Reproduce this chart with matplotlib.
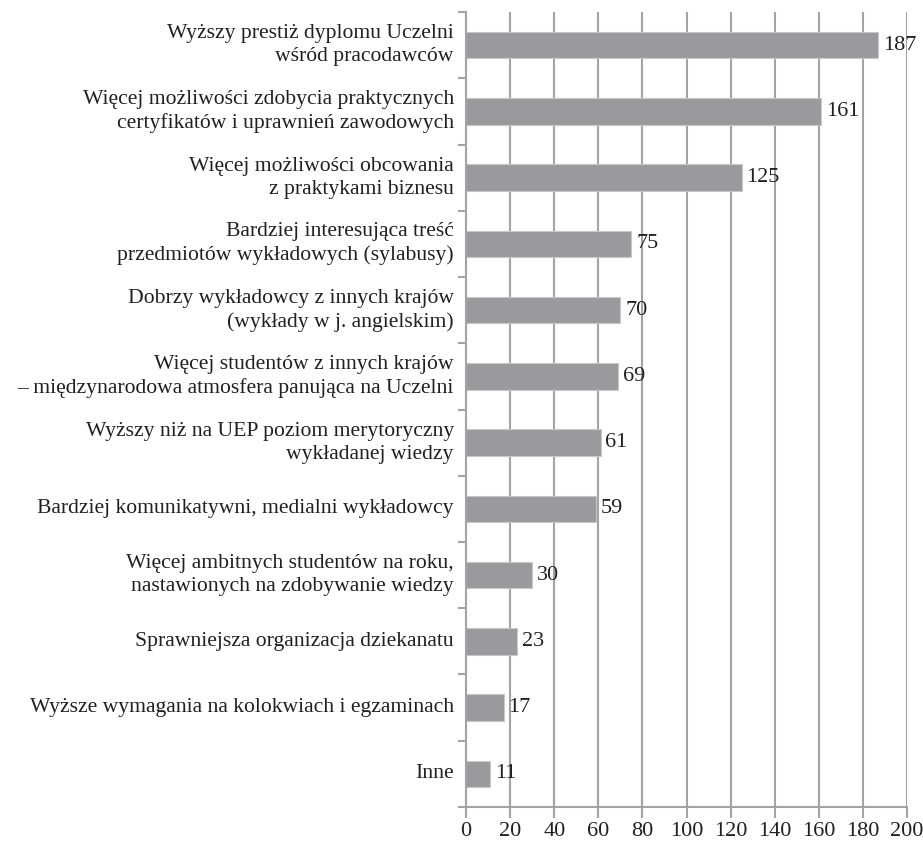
import matplotlib
matplotlib.use("Agg")
import matplotlib.pyplot as plt
import numpy as np

categories = [
    "Wyższy prestiż dyplomu Uczelni\nwśród pracodawców",
    "Więcej możliwości zdobycia praktycznych\ncertyfikatów i uprawnień zawodowych",
    "Więcej możliwości obcowania\nz praktykami biznesu",
    "Bardziej interesująca treść\nprzedmiotów wykładowych (sylabusy)",
    "Dobrzy wykładowcy z innych krajów\n(wykłady w j. angielskim)",
    "Więcej studentów z innych krajów\n– międzynarodowa atmosfera panująca na Uczelni",
    "Wyższy niż na UEP poziom merytoryczny\nwykładanej wiedzy",
    "Bardziej komunikatywni, medialni wykładowcy",
    "Więcej ambitnych studentów na roku,\nnastawionych na zdobywanie wiedzy",
    "Sprawniejsza organizacja dziekanatu",
    "Wyższe wymagania na kolokwiach i egzaminach",
    "Inne",
]
values = [187, 161, 125, 75, 70, 69, 61, 59, 30, 23, 17, 11]
x_ticks = [0, 20, 40, 60, 80, 100, 120, 140, 160, 180, 200]

plt.rcParams['font.family'] = ['Liberation Serif', 'DejaVu Serif']
plt.rcParams['font.size'] = 16

fig = plt.figure(figsize=(9.23, 8.42), dpi=100)
ax = fig.add_axes([0.505, 0.0416, 0.9827 - 0.505, 0.9857 - 0.0416])

grid_c = "#a3a3a3"
bar_c = "#999a9e"
text_c = "#231f20"

y = np.arange(len(categories))
ax.set_xlim(0, 200)
ax.set_ylim(len(categories) - 0.5, -0.5)

for t in x_ticks[1:]:
    ax.axvline(t, color=grid_c, lw=1.5, zorder=1)

ax.barh(y, values, height=0.4, color=bar_c, edgecolor="#c8c8c8", linewidth=0.8, zorder=2)

for yi, v in zip(y, values):
    ax.text(v + 2.2, yi, str(v), va="center", ha="left", color=text_c, fontsize=16, zorder=3)

ax.set_xticks(x_ticks)
ax.set_xticklabels([str(t) for t in x_ticks], color=text_c, fontsize=16)
ax.tick_params(axis="x", direction="out", length=8, width=1.5, color=grid_c, pad=3)

# category boundaries on the left axis
ax.set_yticks(np.arange(-0.5, len(categories), 1.0))
ax.set_yticklabels([])
ax.tick_params(axis="y", direction="out", length=6, width=1.5, color=grid_c)
for yi, lab in zip(y, categories):
    ax.text(-0.028, yi, lab, transform=ax.get_yaxis_transform(), ha="right", va="center",
            multialignment="right", color=text_c, fontsize=15.6, linespacing=1.3)

for side in ["top", "right"]:
    ax.spines[side].set_visible(False)
for side in ["left", "bottom"]:
    ax.spines[side].set_color(grid_c)
    ax.spines[side].set_linewidth(1.5)

fig.savefig("out.png", dpi=100)
